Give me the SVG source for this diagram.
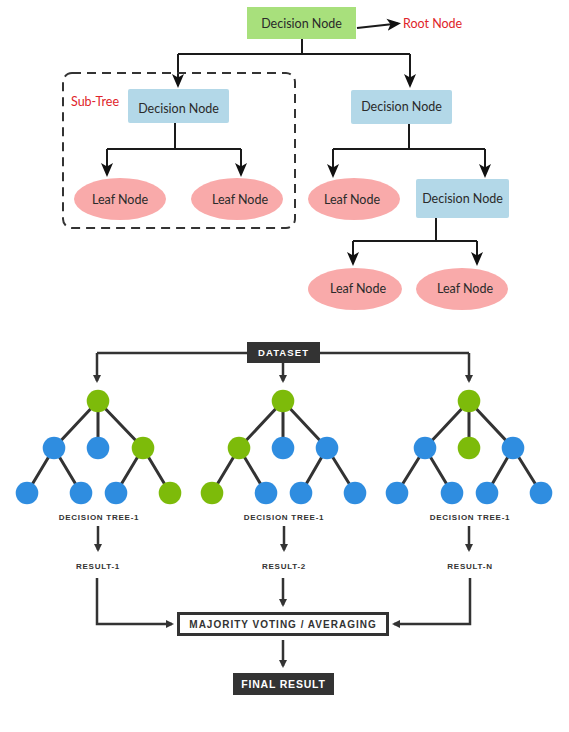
<svg xmlns="http://www.w3.org/2000/svg" width="569" height="732" viewBox="0 0 569 732">
<style>
.dn{fill:#b3d8e8}
.leaf{fill:#f9aaaa}
.t{font-family:Lato,"Open Sans","Liberation Sans",sans-serif;font-size:12.5px;fill:#2a2a2a;text-anchor:middle}
.red{font-family:Lato,"Open Sans","Liberation Sans",sans-serif;font-size:12.5px;fill:#e0242a}
.c{fill:none;stroke:#1a1a1a;stroke-width:2}
.b{fill:none;stroke:#333;stroke-width:2.5}
.e{stroke:#333;stroke-width:3}
.g{fill:#7dbb0a}
.bl{fill:#2f8de0}
.lab{font-family:"Liberation Sans",Arial,sans-serif;font-weight:bold;font-size:8px;fill:#333;text-anchor:middle;letter-spacing:0.75px}
.wt{font-family:"Liberation Sans",Arial,sans-serif;font-weight:bold;fill:#fff;text-anchor:middle}
</style>
<defs>
<marker id="ah" markerUnits="userSpaceOnUse" viewBox="0 0 14 14" markerWidth="14" markerHeight="14" refX="11" refY="7" orient="auto">
<path d="M0,1 L14,7 L0,13 L3.5,7 Z" fill="#111"/>
</marker>
<marker id="sa" markerUnits="userSpaceOnUse" viewBox="0 0 8 8" markerWidth="8" markerHeight="8" refX="6" refY="4" orient="auto">
<path d="M0,0 L8,4 L0,8 Z" fill="#333"/>
</marker>
</defs>

<g id="connectors">
<path class="c" d="M302,39 V54 M178,54 H410"/>
<path class="c" d="M178,54 V85" marker-end="url(#ah)"/>
<path class="c" d="M410,54 V85" marker-end="url(#ah)"/>
<path class="c" d="M357,28 L398,23.5" marker-end="url(#ah)"/>
<path class="c" d="M175,123 V149 M107,149 H241"/>
<path class="c" d="M107,149 V174" marker-end="url(#ah)"/>
<path class="c" d="M241,149 V174" marker-end="url(#ah)"/>
<path class="c" d="M409,124 V149 M333,149 H485"/>
<path class="c" d="M333,149 V175" marker-end="url(#ah)"/>
<path class="c" d="M485,149 V175" marker-end="url(#ah)"/>
<path class="c" d="M436,218 V241 M353,241 H477"/>
<path class="c" d="M353,241 V263" marker-end="url(#ah)"/>
<path class="c" d="M477,241 V263" marker-end="url(#ah)"/>

<path class="b" d="M97,353 H469"/>
<path class="b" d="M97,353 V381" marker-end="url(#sa)"/>
<path class="b" d="M283,363 V381" marker-end="url(#sa)"/>
<path class="b" d="M469,353 V381" marker-end="url(#sa)"/>
<path class="b" d="M98,526 V550" marker-end="url(#sa)"/>
<path class="b" d="M284,526 V550" marker-end="url(#sa)"/>
<path class="b" d="M469,526 V550" marker-end="url(#sa)"/>
<path class="b" d="M97,578 V624 H172" marker-end="url(#sa)"/>
<path class="b" d="M283,578 V605" marker-end="url(#sa)"/>
<path class="b" d="M470,578 V624 H394" marker-end="url(#sa)"/>
<path class="b" d="M283,640 V666" marker-end="url(#sa)"/>
</g>

<g id="subtree">
<rect x="63" y="73" width="232" height="155" rx="9" fill="none" stroke="#333" stroke-width="2" stroke-dasharray="9 6"/>
<text class="red" x="71" y="106">Sub-Tree</text>
</g>

<g id="root">
<rect x="247" y="7" width="109" height="32" fill="#a8e07c"/>
<text class="t" x="301.5" y="27.5">Decision Node</text>
</g>
<g id="root-label"><text class="red" x="403" y="27.5">Root Node</text></g>

<g id="dn-left">
<rect class="dn" x="128" y="89" width="101" height="34" rx="2"/>
<text class="t" x="178.5" y="113">Decision Node</text>
</g>
<g id="dn-right">
<rect class="dn" x="351" y="90" width="101" height="34" rx="2"/>
<text class="t" x="401.5" y="110.5">Decision Node</text>
</g>
<g id="dn-lower">
<rect class="dn" x="416" y="179" width="93" height="39" rx="2"/>
<text class="t" x="462.5" y="203">Decision Node</text>
</g>
<g id="leaf-1"><ellipse class="leaf" cx="120" cy="199" rx="46" ry="21"/><text class="t" x="120" y="203.5">Leaf Node</text></g>
<g id="leaf-2"><ellipse class="leaf" cx="237" cy="199" rx="46" ry="21"/><text class="t" x="240" y="203.5">Leaf Node</text></g>
<g id="leaf-3"><ellipse class="leaf" cx="354" cy="199" rx="46" ry="21"/><text class="t" x="352" y="203.5">Leaf Node</text></g>
<g id="leaf-4"><ellipse class="leaf" cx="355" cy="289" rx="47" ry="21"/><text class="t" x="358" y="293">Leaf Node</text></g>
<g id="leaf-5"><ellipse class="leaf" cx="462" cy="289" rx="46" ry="21"/><text class="t" x="465" y="293">Leaf Node</text></g>

<g id="dataset">
<rect x="247" y="342" width="73" height="21" fill="#333"/>
<text class="wt" x="283.5" y="356" font-size="9.5" letter-spacing="1.1">DATASET</text>
</g>

<g id="tree-1">
<path class="e" d="M98,401 L54,448 M98,401 L98,448 M98,401 L143,448 M54,448 L27,493 M54,448 L81,493 M143,448 L116,493 M143,448 L170,493"/>
<circle class="g" cx="98" cy="401" r="11.3"/>
<circle class="bl" cx="54" cy="448" r="11.3"/><circle class="bl" cx="98" cy="448" r="11.3"/><circle class="g" cx="143" cy="448" r="11.3"/>
<circle class="bl" cx="27" cy="493" r="11.3"/><circle class="bl" cx="81" cy="493" r="11.3"/><circle class="bl" cx="116" cy="493" r="11.3"/><circle class="g" cx="170" cy="493" r="11.3"/>
<text class="lab" x="99" y="520">DECISION TREE-1</text>
</g>
<g id="tree-2">
<path class="e" d="M283,401 L239,448 M283,401 L283,448 M283,401 L327,448 M239,448 L212,493 M239,448 L266,493 M327,448 L301,493 M327,448 L355,493"/>
<circle class="g" cx="283" cy="401" r="11.3"/>
<circle class="g" cx="239" cy="448" r="11.3"/><circle class="bl" cx="283" cy="448" r="11.3"/><circle class="bl" cx="327" cy="448" r="11.3"/>
<circle class="g" cx="212" cy="493" r="11.3"/><circle class="bl" cx="266" cy="493" r="11.3"/><circle class="bl" cx="301" cy="493" r="11.3"/><circle class="bl" cx="355" cy="493" r="11.3"/>
<text class="lab" x="284" y="520">DECISION TREE-1</text>
</g>
<g id="tree-3">
<path class="e" d="M469,401 L425,448 M469,401 L469,448 M469,401 L513,448 M425,448 L397,493 M425,448 L452,493 M513,448 L487,493 M513,448 L541,493"/>
<circle class="g" cx="469" cy="401" r="11.3"/>
<circle class="bl" cx="425" cy="448" r="11.3"/><circle class="g" cx="469" cy="448" r="11.3"/><circle class="bl" cx="513" cy="448" r="11.3"/>
<circle class="bl" cx="397" cy="493" r="11.3"/><circle class="bl" cx="452" cy="493" r="11.3"/><circle class="bl" cx="487" cy="493" r="11.3"/><circle class="bl" cx="541" cy="493" r="11.3"/>
<text class="lab" x="470" y="520">DECISION TREE-1</text>
</g>

<g id="result-1"><text class="lab" x="98" y="569">RESULT-1</text></g>
<g id="result-2"><text class="lab" x="284" y="569">RESULT-2</text></g>
<g id="result-n"><text class="lab" x="470" y="569">RESULT-N</text></g>

<g id="majority">
<rect x="178.5" y="613.5" width="209" height="21" fill="#fff" stroke="#333" stroke-width="3"/>
<text x="283" y="628" text-anchor="middle" font-family="Liberation Sans, Arial, sans-serif" font-weight="bold" font-size="10" fill="#333" letter-spacing="1">MAJORITY VOTING / AVERAGING</text>
</g>
<g id="final">
<rect x="233" y="673" width="101" height="22" fill="#333"/>
<text class="wt" x="283.5" y="688" font-size="10.5" letter-spacing="0.8">FINAL RESULT</text>
</g>
</svg>
